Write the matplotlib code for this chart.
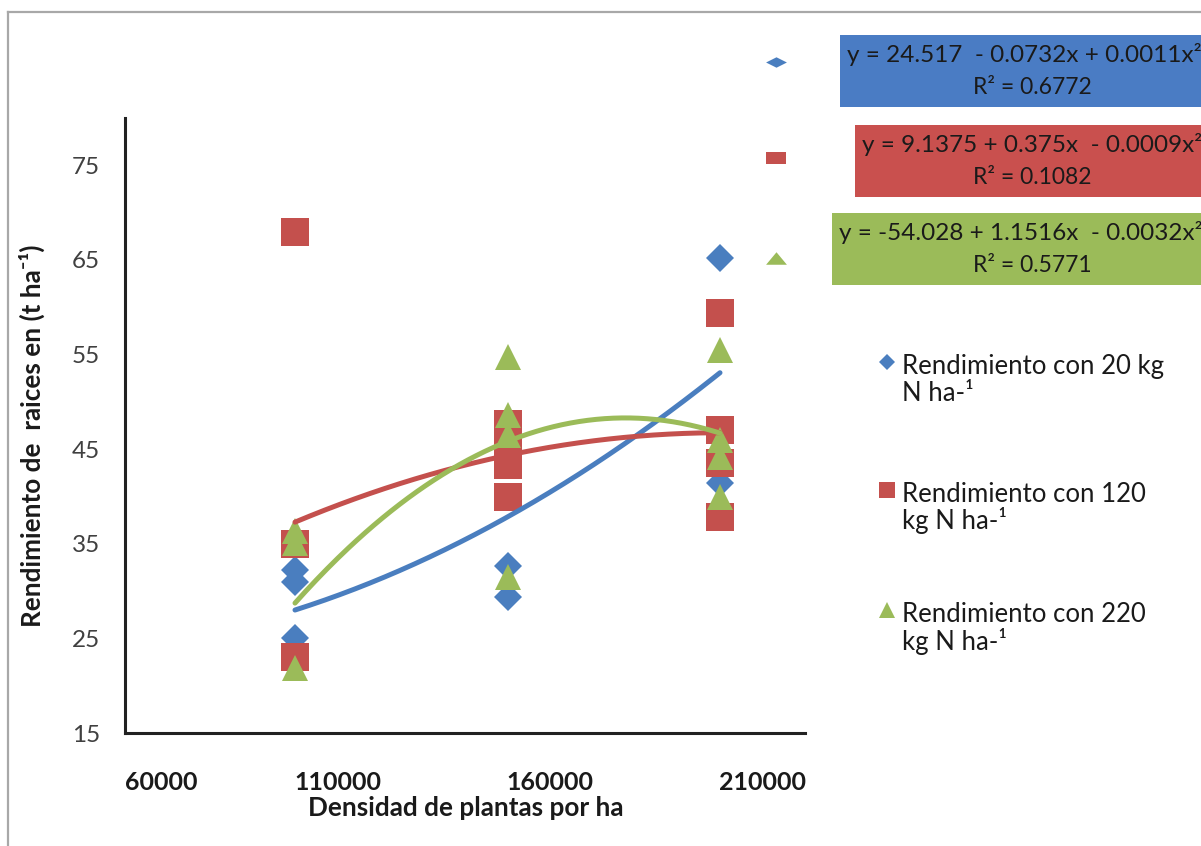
import matplotlib
matplotlib.use("Agg")
import matplotlib.pyplot as plt
import numpy as np
from matplotlib.lines import Line2D
from matplotlib.patches import Rectangle

# ---------------- data ----------------
densities = [100000, 150000, 200000]
# yields (t/ha) read at each density
yield_20 = [[32.2, 31.0, 25.0], [32.7, 29.4], [65.2, 41.4]]
yield_120 = [[68.0, 35.0, 23.0], [47.7, 45.2, 43.3, 39.9], [59.4, 47.0, 43.5, 37.8]]
yield_220 = [[36.4, 35.1, 21.9], [54.7, 48.6, 46.5, 31.5], [55.5, 46.0, 44.2, 39.9]]
# polynomial trendline coefficients (x in thousand plants/ha)
coef_20 = [24.517, -0.0732, 0.00108]
coef_120 = [9.1375, 0.375, -0.000935]
coef_220 = [-54.028, 1.1516, -0.00324]
eq_texts = ["y = 24.517  - 0.0732x + 0.0011x²",
            "y = 9.1375 + 0.375x  - 0.0009x²",
            "y = -54.028 + 1.1516x  - 0.0032x²"]
r2_texts = ["R² = 0.6772", "R² = 0.1082", "R² = 0.5771"]
series_labels = [["Rendimiento con 20 kg", "N ha-¹"],
                 ["Rendimiento con 120", "kg N ha-¹"],
                 ["Rendimiento con 220", "kg N ha-¹"]]
x_ticks = [60000, 110000, 160000, 210000]
x_ticklabels = ["60000", "110000", "160000", "210000"]
y_ticks = [15, 25, 35, 45, 55, 65, 75]

colors = ["#4A7EBF", "#C4504D", "#9BBB59"]
box_colors = ["#4A7CC4", "#C9504E", "#9BBB59"]
FONT = ["Lato", "DejaVu Sans"]

W, H = 1201, 846
fig = plt.figure(figsize=(W / 100, H / 100), dpi=100)
fig.patch.set_facecolor("white")

def fx(px):
    return px / W

def fy(py):
    return 1 - py / H

ax = fig.add_axes([fx(125), fy(733), fx(805) - fx(125), fy(118) - fy(733)])
ax.set_xlim(60000, 220000)
ax.set_ylim(15, 80)

markers = ["D", "s", "^"]
msizes = [14, 19.5, 18.5]
all_series = [yield_20, yield_120, yield_220]
for ser, mk, ms, c in zip(all_series, markers, msizes, colors):
    xs, ys = [], []
    for d, vals in zip(densities, ser):
        xs += [d] * len(vals)
        ys += vals
    ax.plot(xs, ys, linestyle="none", marker=mk, markersize=ms, color=c,
            markeredgewidth=0, zorder=3)

xx = np.linspace(densities[0], densities[-1], 200)
for coef, c in zip([coef_20, coef_120, coef_220], colors):
    xk = xx / 1000.0
    yy = coef[0] + coef[1] * xk + coef[2] * xk ** 2
    ax.plot(xx, yy, color=c, linewidth=3.6, solid_capstyle="round", zorder=4)

for s in ["top", "right"]:
    ax.spines[s].set_visible(False)
for s in ["left", "bottom"]:
    ax.spines[s].set_linewidth(2.2)
    ax.spines[s].set_color("#222222")

ax.set_yticks(y_ticks)
ax.set_yticklabels([str(v) for v in y_ticks], family=FONT, fontsize=17.5, color="#404040")
ax.set_xticks(x_ticks)
ax.set_xticklabels(x_ticklabels, family=FONT, fontsize=18, fontweight="bold", color="#1a1a1a")
ax.tick_params(axis="both", length=0)
ax.tick_params(axis="y", pad=18)
ax.tick_params(axis="x", pad=27)
ax.get_xticklabels()[0].set_horizontalalignment("left")

fig.text(fx(466), fy(808), "Densidad de plantas por ha", family=FONT, fontsize=18.8,
         fontweight="bold", ha="center", va="center", color="#1a1a1a")
fig.text(fx(32), fy(436), "Rendimiento de  raices en (t ha⁻¹)", family=FONT, fontsize=18.8,
         fontweight="bold", ha="center", va="center", rotation=90, color="#1a1a1a")

# outer frame
fig.add_artist(Line2D([fx(8), fx(8)], [fy(12), 0], color="#a8a8a8", linewidth=1.6))
fig.add_artist(Line2D([fx(8), 1], [fy(12), fy(12)], color="#a8a8a8", linewidth=1.6))

# equation boxes
box_left = [840, 855, 832]
box_top = [35, 125, 213]
box_h = 72
for i in range(3):
    fig.add_artist(Rectangle((fx(box_left[i]), fy(box_top[i] + box_h)),
                             1.2 - fx(box_left[i]), box_h / H,
                             facecolor=box_colors[i], edgecolor="none"))
    fig.text(fx(box_left[i] + 7), fy(box_top[i] + 20), eq_texts[i], family=FONT,
             fontsize=17.5, ha="left", va="center", color="#1a1a1a")
    fig.text(fx(1032), fy(box_top[i] + 52), r2_texts[i], family=FONT,
             fontsize=16.5, ha="center", va="center", color="#1a1a1a")

# small legend markers next to equations
squash = [
    [(-1, 0), (0, 0.5), (1, 0), (0, -0.5), (-1, 0)],
    [(-1, -0.6), (1, -0.6), (1, 0.6), (-1, 0.6), (-1, -0.6)],
    [(-1, -0.6), (1, -0.6), (0, 0.6), (-1, -0.6)],
]
eq_marker_y = [62, 158, 258]
for i in range(3):
    fig.add_artist(Line2D([fx(776)], [fy(eq_marker_y[i])], marker=squash[i], markersize=15,
                          color=colors[i], markeredgewidth=0, linestyle="none"))

# series legend
leg_marker_y = [362, 490, 610]
leg_ms = [8, 11, 11]
for i in range(3):
    fig.add_artist(Line2D([fx(887)], [fy(leg_marker_y[i])], marker=markers[i],
                          markersize=leg_ms[i], color=colors[i], markeredgewidth=0,
                          linestyle="none"))
    fig.text(fx(902), fy(leg_marker_y[i] + 4), series_labels[i][0], family=FONT,
             fontsize=18.5, ha="left", va="center", color="#1a1a1a")
    fig.text(fx(902), fy(leg_marker_y[i] + 31), series_labels[i][1], family=FONT,
             fontsize=18.5, ha="left", va="center", color="#1a1a1a")

fig.savefig("out.png", dpi=100)
